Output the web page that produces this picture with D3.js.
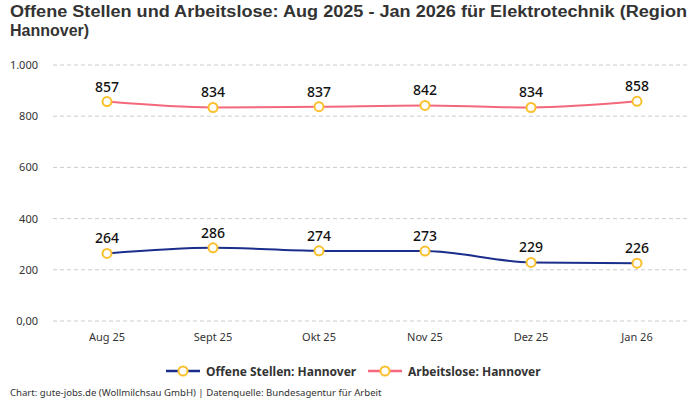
<!DOCTYPE html>
<html><head><meta charset="utf-8">
<script src="https://cdn.jsdelivr.net/npm/d3@7"></script>
<style>
body{margin:0;background:#fff;}
svg{display:block;font-family:"Noto Sans",Roboto,sans-serif;}
</style></head>
<body><svg id="c" width="700" height="400"></svg>
<script>
const categories = ["Aug 25","Sept 25","Okt 25","Nov 25","Dez 25","Jan 26"];
const offeneStellen = [264,286,274,273,229,226];
const arbeitslose = [857,834,837,842,834,858];
const yTicks = [0,200,400,600,800,1000];
const yTickLabels = ["0,00","200","400","600","800","1.000"];
const seriesNames = ["Offene Stellen: Hannover","Arbeitslose: Hannover"];
const seriesColors = ["#1b2e8c","#f4687c"];
const titleLines = ["Offene Stellen und Arbeitslose: Aug 2025 - Jan 2026 für Elektrotechnik (Region","Hannover)"];

const svg = d3.select("#c");
const x = d3.scaleBand().domain(categories).range([54,690]).padding(0);
const y = d3.scaleLinear().domain([0,1000]).range([321,65]);
const cx = d => x(d) + x.bandwidth()/2;

titleLines.forEach((t,i)=>{
  const el = svg.append("text").attr("x",10).attr("y",17+i*19).attr("font-size",16).attr("font-weight",700)
    .attr("fill","#333").attr("font-family","'Liberation Sans',Arial,sans-serif").text(t);
  if(i===0) el.attr("textLength",677).attr("lengthAdjust","spacingAndGlyphs");
});

// grid
svg.append("g").selectAll("line").data(yTicks).join("line")
  .attr("x1",53).attr("x2",690).attr("y1",d=>y(d)).attr("y2",d=>y(d))
  .attr("stroke","#ccc").attr("stroke-dasharray","4,3").attr("stroke-width",1);
svg.append("g").selectAll("text").data(yTicks).join("text")
  .attr("x",38).attr("y",d=>y(d)+4).attr("text-anchor","end").attr("font-size",11).attr("fill","#333")
  .text((d,i)=>yTickLabels[i]);

// x axis labels
svg.append("g").selectAll("text").data(categories).join("text")
  .attr("x",d=>cx(d)).attr("y",341).attr("text-anchor","middle").attr("font-size",11).attr("fill","#333")
  .text(d=>d);

const line = d3.line().x((d,i)=>cx(categories[i])).y(d=>y(d)).curve(d3.curveMonotoneX);
[offeneStellen, arbeitslose].forEach((vals,si)=>{
  svg.append("path").datum(vals).attr("d",line).attr("fill","none")
    .attr("stroke",seriesColors[si]).attr("stroke-width",2);
  svg.append("g").selectAll("circle").data(vals).join("circle")
    .attr("cx",(d,i)=>cx(categories[i])).attr("cy",d=>y(d)).attr("r",4.5)
    .attr("fill","#fff").attr("stroke","#fbc02d").attr("stroke-width",2);
  svg.append("g").selectAll("text").data(vals).join("text")
    .attr("x",(d,i)=>cx(categories[i])).attr("y",d=>y(d)-10).attr("text-anchor","middle")
    .attr("font-size",14).attr("font-weight",500).attr("fill","#111").text(d=>d);
});

// legend
const legendX = [166,368];
seriesNames.forEach((n,i)=>{
  const g = svg.append("g").attr("transform",`translate(${legendX[i]},371)`);
  g.append("line").attr("x1",0).attr("x2",34).attr("y1",0).attr("y2",0).attr("stroke",seriesColors[i]).attr("stroke-width",2.5);
  g.append("circle").attr("cx",17).attr("cy",0).attr("r",4.5).attr("fill","#fff").attr("stroke","#fbc02d").attr("stroke-width",2);
  g.append("text").attr("x",40).attr("y",4.5).attr("font-size",12).attr("font-weight",700).attr("fill","#333").text(n);
});

svg.append("text").attr("x",10).attr("y",396).attr("font-size",9.6).attr("fill","#333")
  .text("Chart: gute-jobs.de (Wollmilchsau GmbH) | Datenquelle: Bundesagentur für Arbeit");
</script></body></html>
